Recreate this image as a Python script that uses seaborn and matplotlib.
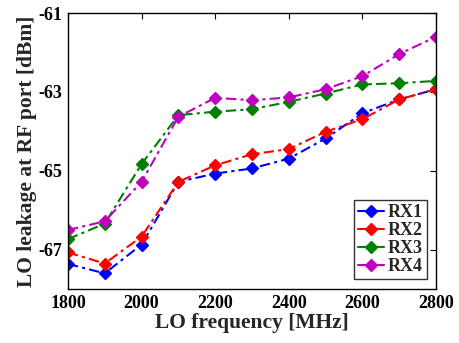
import matplotlib
matplotlib.use("Agg")
import matplotlib.pyplot as plt
import seaborn as sns
import pandas as pd

freq = [1800, 1900, 2000, 2100, 2200, 2300, 2400, 2500, 2600, 2700, 2800]
rx1 = [-67.36, -67.60, -66.87, -65.28, -65.07, -64.94, -64.69, -64.18, -63.54, -63.19, -62.93]
rx2 = [-67.07, -67.35, -66.67, -65.28, -64.86, -64.58, -64.45, -64.01, -63.69, -63.19, -62.93]
rx3 = [-66.73, -66.34, -64.83, -63.59, -63.50, -63.44, -63.25, -63.04, -62.81, -62.78, -62.72]
rx4 = [-66.50, -66.28, -65.28, -63.63, -63.15, -63.21, -63.14, -62.93, -62.60, -62.04, -61.60]
names = ["RX1", "RX2", "RX3", "RX4"]
colors = ["#0000ff", "#ff0000", "#008000", "#bf00bf"]

sns.set_style("white")
plt.rcParams["font.family"] = ["Liberation Serif", "DejaVu Serif"]
plt.rcParams["font.weight"] = "bold"
plt.rcParams["axes.unicode_minus"] = False

rows = []
for n, vals in zip(names, [rx1, rx2, rx3, rx4]):
    for f, v in zip(freq, vals):
        rows.append({"freq": f, "val": v, "rx": n})
df = pd.DataFrame(rows)

fig = plt.figure(figsize=(4.59, 3.43), dpi=100)
ax = fig.add_axes([0.148, 0.157, 0.802, 0.805])
sns.lineplot(data=df, x="freq", y="val", hue="rx", palette=colors,
             marker="D", markersize=6.5, markeredgewidth=1, linewidth=1.5,
             ax=ax, legend=True)
for line in ax.get_lines():
    line.set_linestyle((0, (5, 2, 1.5, 2)))
    line.set_markeredgecolor(line.get_color())

ax.set_xlim(1800, 2800)
ax.set_ylim(-68, -61)
ax.set_xticks([1800, 2000, 2200, 2400, 2600, 2800])
ax.set_yticks([-67, -65, -63, -61])
ax.tick_params(direction="in", top=True, right=True, length=4, width=0.8,
               labelsize=13, colors="black", pad=4)
for lab in ax.get_xticklabels() + ax.get_yticklabels():
    lab.set_fontweight("bold")
for s in ax.spines.values():
    s.set_visible(True)
    s.set_color("black")
    s.set_linewidth(1.0)
ax.set_xlabel("LO frequency [MHz]", fontsize=15.5, fontweight="bold", labelpad=1)
ax.set_ylabel("LO leakage at RF port [dBm]", fontsize=15.5, fontweight="bold", labelpad=1)

handles, labels = ax.get_legend_handles_labels()
for h in handles:
    h.set_linestyle("-")
leg = ax.legend(handles, labels, loc="lower right", fontsize=13, frameon=True,
                fancybox=False, edgecolor="black", handlelength=1.4,
                handletextpad=0.2, borderpad=0.25, labelspacing=0.05,
                borderaxespad=0, bbox_to_anchor=(0.975, 0.035))
leg.get_frame().set_linewidth(1.0)
for t in leg.get_texts():
    t.set_fontweight("bold")

fig.savefig("out.png", dpi=100)
